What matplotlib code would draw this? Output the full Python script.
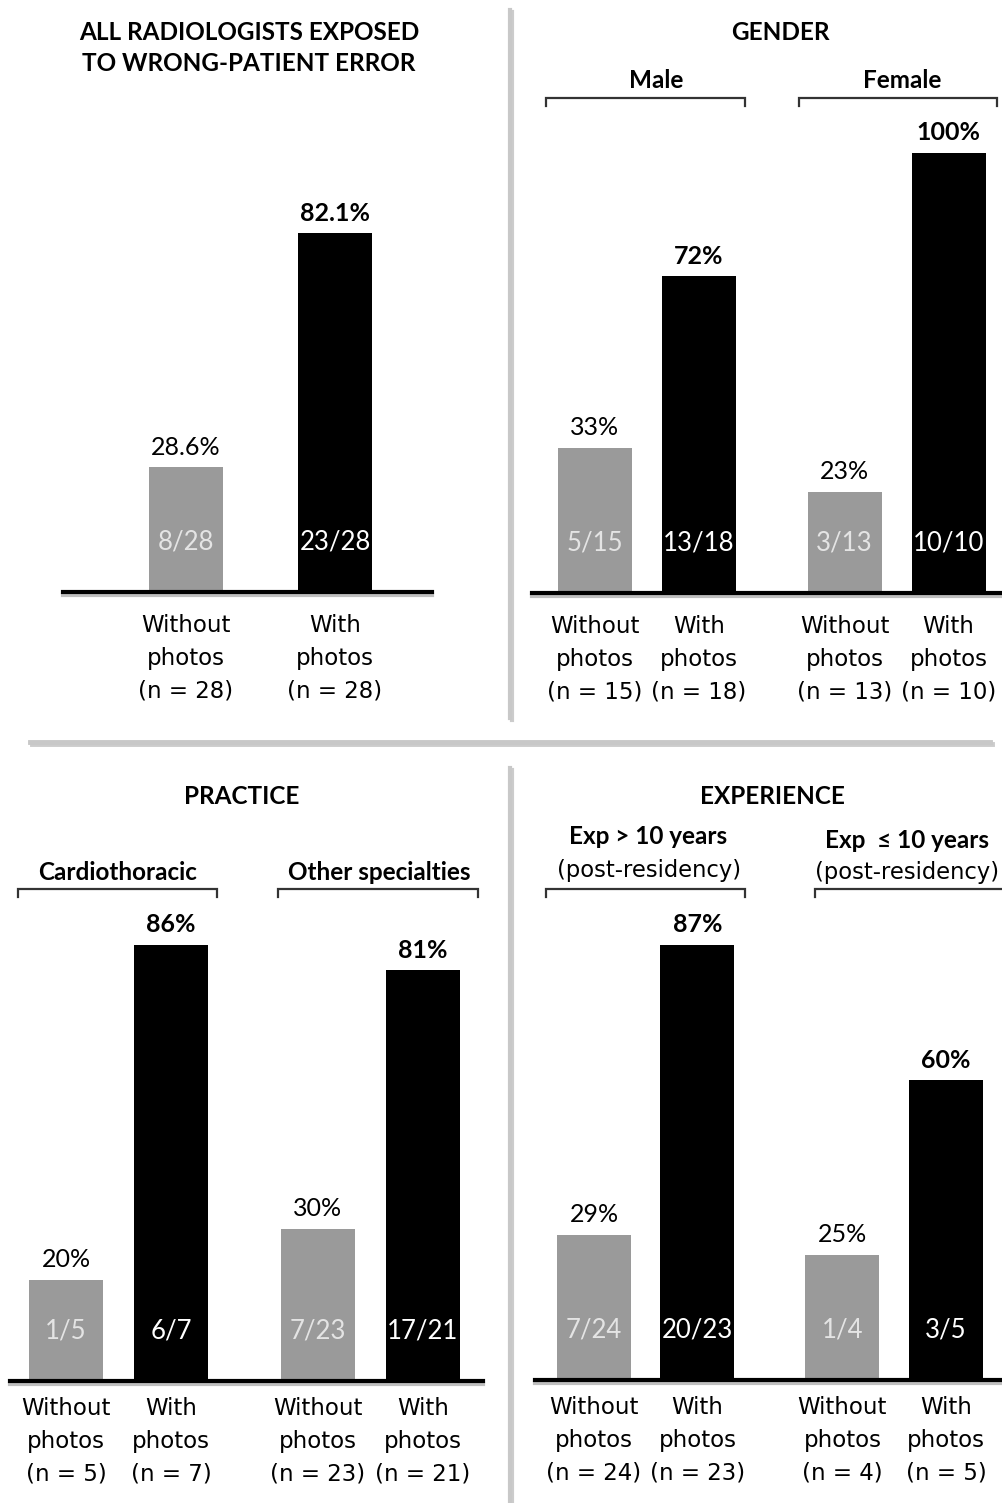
import matplotlib
matplotlib.use("Agg")
import matplotlib.pyplot as plt
import matplotlib.patheffects as pe

W, H = 1003, 1503
DPI = 100

GRAY = "#9a9a9a"
BLACK = "#000000"
DIVIDER = "#c8c8c8"
HEAD_FONT = ["Lato", "DejaVu Sans"]
TICK_FONT = ["DejaVu Sans"]

# ---- data -------------------------------------------------------------
photos = ["Without", "With", "Without", "With"]

all_pct = [28.6, 82.1]
all_frac = ["8/28", "23/28"]
all_n = [28, 28]

gender_groups = ["Male", "Female"]
gender_pct = [33, 72, 23, 100]
gender_frac = ["5/15", "13/18", "3/13", "10/10"]
gender_n = [15, 18, 13, 10]

practice_groups = ["Cardiothoracic", "Other specialties"]
practice_pct = [20, 86, 30, 81]
practice_frac = ["1/5", "6/7", "7/23", "17/21"]
practice_n = [5, 7, 23, 21]

exp_groups = ["Exp > 10 years", "Exp  \u2264 10 years"]
exp_sub = "(post-residency)"
exp_pct = [29, 87, 25, 60]
exp_frac = ["7/24", "20/23", "1/4", "3/5"]
exp_n = [24, 23, 4, 5]

pos2 = [0, 1]
pos4 = [0, 1, 2.4, 3.4]


# book one bar panel, layout given in pixels
def bar_panel(fig, x0, x1, base, px_pct, c0, unit, pos, pct, frac, n, pad=16):
    ax = fig.add_axes([x0 / W, 1 - base / H, (x1 - x0) / W, 100 * px_pct / H])
    ax.set_xlim((x0 - c0) / unit, (x1 - c0) / unit)
    ax.set_ylim(0, 100)
    cols = [GRAY if i % 2 == 0 else BLACK for i in range(len(pct))]
    ax.bar(pos, pct, width=74 / unit, color=cols, zorder=2)

    for i, (x, v, f) in enumerate(zip(pos, pct, frac)):
        ax.annotate(f"{v:g}%", (x, v), xytext=(0, 20), textcoords="offset pixels",
                    ha="center", va="center", fontsize=18, family=HEAD_FONT,
                    fontweight="bold" if i % 2 else "normal", annotation_clip=False)
        ax.annotate(f, (x, 0), xytext=(0, 50), textcoords="offset pixels",
                    ha="center", va="center", fontsize=18.5, family=HEAD_FONT,
                    color="#e4e4e4" if i % 2 == 0 else "white", zorder=3)

    ax.axhline(0, color=BLACK, lw=3, zorder=4, clip_on=False,
               path_effects=[pe.SimpleLineShadow(offset=(0, -2), shadow_color="gray", alpha=0.5),
                             pe.Normal()])
    labels = [f"{photos[i]}\nphotos\n(n = {k})" for i, k in enumerate(n)]
    ax.set_xticks(pos, labels=labels, fontsize=16.5, family=TICK_FONT, linespacing=1.53)
    ax.tick_params(axis="x", length=0, pad=pad)
    ax.set_yticks([])
    for s in ax.spines.values():
        s.set_visible(False)
    ax.patch.set_visible(False)
    return ax


def bracket(ov, xa, xb, y):
    ov.plot([xa, xa, xb, xb], [y + 8, y, y, y + 8], color="#333333", lw=1.6,
            solid_joinstyle="miter")


fig = plt.figure(figsize=(W / DPI, H / DPI), dpi=DPI)

# overlay in pixel coords for dividers, titles, brackets
ov = fig.add_axes([0, 0, 1, 1])
ov.set_xlim(0, W)
ov.set_ylim(H, 0)
ov.axis("off")

shadow = [pe.SimpleLineShadow(offset=(1.5, -1.5), shadow_color="gray", alpha=0.4), pe.Normal()]
ov.plot([510, 510], [10, 718], color=DIVIDER, lw=3, path_effects=shadow)
ov.plot([510, 510], [768, 1503], color=DIVIDER, lw=3, path_effects=shadow)
ov.plot([30, 990], [742, 742], color=DIVIDER, lw=3.5, path_effects=shadow)

title_kw = dict(ha="center", va="center", fontsize=17.5, fontweight="bold", family=HEAD_FONT)
ov.text(249, 48, "ALL RADIOLOGISTS EXPOSED\nTO WRONG-PATIENT ERROR", linespacing=1.45, **title_kw)
ov.text(780, 32, "GENDER", **title_kw)
ov.text(242, 797, "PRACTICE", **title_kw)
ov.text(772, 797, "EXPERIENCE", **title_kw)

ov.text(656, 80, gender_groups[0], **title_kw)
ov.text(902, 80, gender_groups[1], **title_kw)
bracket(ov, 546, 745, 98)
bracket(ov, 799, 997, 98)

ov.text(118, 873, practice_groups[0], **title_kw)
ov.text(379, 873, practice_groups[1], **title_kw)
bracket(ov, 18, 217, 889)
bracket(ov, 278, 478, 889)

ov.text(648, 837, exp_groups[0], **title_kw)
ov.text(907, 840, exp_groups[1], **title_kw)
ov.text(649, 871, exp_sub, ha="center", va="center", fontsize=16.3, family=TICK_FONT)
ov.text(907, 872, exp_sub, ha="center", va="center", fontsize=16.3, family=TICK_FONT)
bracket(ov, 546, 745, 889)
bracket(ov, 815, 1015, 889)

# ---- bar panels ---------------------------------------------------------
bar_panel(fig, 63, 432, 592, 4.37, 186, 149, pos2, all_pct, all_frac, all_n, pad=16)
bar_panel(fig, 532, 1003, 593, 4.40, 595, 104, pos4, gender_pct, gender_frac, gender_n, pad=16)
bar_panel(fig, 10, 483, 1381, 5.07, 66, 105, pos4, practice_pct, practice_frac, practice_n, pad=11.5)
bar_panel(fig, 535, 1003, 1380, 5.0, 594, 103.5, pos4, exp_pct, exp_frac, exp_n, pad=11.5)

fig.savefig("out.png", dpi=DPI)
